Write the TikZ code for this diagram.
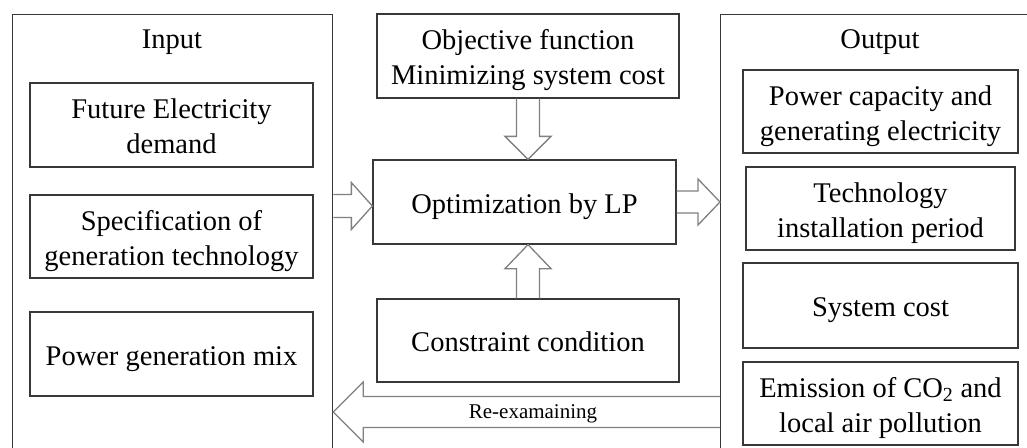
\documentclass[tikz,border=0pt]{standalone}
\usepackage{fontspec}
\setmainfont{Liberation Serif}
\usetikzlibrary{calc}
\tikzset{
  inbox/.style={draw=black!78, line width=1.3pt, align=center, inner sep=0pt,
    font=\fontsize{28.5}{35}\selectfont, text depth=0pt, text height=22.5pt},
  twoline/.style={text height=57.5pt},
  outbox/.style={draw=black!78, line width=1.3pt, inner sep=0pt, anchor=north west},
  titletext/.style={font=\fontsize{28.5}{35}\selectfont, inner sep=0pt, anchor=base},
  blockarrow/.style={draw=black!50, line width=1.3pt, line join=miter},
  lbl/.style={font=\fontsize{21}{25}\selectfont, inner sep=0pt, anchor=base}
}
\newcommand\blockarr[5]{%
  \coordinate (ba-s) at (#1);
  \coordinate (ba-t) at (#2);
  \coordinate (ba-h) at ($(ba-t)!#5!(ba-s)$);
  \draw[blockarrow] ($(ba-s)!#3!90:(ba-t)$) -- ($(ba-h)!#3!90:(ba-t)$)
    -- ($(ba-h)!#4!90:(ba-t)$) -- (ba-t) -- ($(ba-h)!#4!-90:(ba-t)$)
    -- ($(ba-h)!#3!-90:(ba-t)$) -- ($(ba-s)!#3!-90:(ba-t)$);
}
\begin{document}
\begin{tikzpicture}[x=1pt,y=-1pt]
\useasboundingbox (0,0) rectangle (1027,447);
\fill[white] (0,0) rectangle (1027,447);
\clip (0,0) rectangle (1027,447);

% outer boxes
\node[outbox, minimum width=320pt, minimum height=460pt] (input) at (12,14) {};
\node[outbox, minimum width=330pt, minimum height=460pt] (output) at (720,14) {};
\node[titletext] (intitle) at (172,48) {Input};
\node[titletext] (outtitle) at (880,48) {Output};

% input boxes
\node[inbox, twoline, minimum width=283pt, minimum height=84pt] (demand) at (171.5,125) {Future Electricity\\demand};
\node[inbox, twoline, minimum width=283pt, minimum height=83pt] (spec) at (171.5,236.5) {Specification of\\generation technology};
\node[inbox, minimum width=283pt, minimum height=84pt] (mix) at (171.5,354) {Power generation mix};

% middle boxes
\node[inbox, twoline, minimum width=302pt, minimum height=84pt] (obj) at (528,56) {Objective function\\Minimizing system cost};
\node[inbox, minimum width=303pt, minimum height=84pt] (opt) at (524.5,202) {Optimization by LP};
\node[inbox, minimum width=302pt, minimum height=83pt] (cons) at (528,340.5) {Constraint condition};

% output boxes
\node[inbox, twoline, minimum width=275pt, minimum height=83pt] (cap) at (880.5,111.5) {Power capacity and\\generating electricity};
\node[inbox, twoline, minimum width=269pt, minimum height=83pt] (tech) at (880.5,208.5) {Technology\\installation period};
\node[inbox, minimum width=275pt, minimum height=85pt] (cost) at (880.5,305.5) {System cost};
\node[inbox, twoline, minimum width=275pt, minimum height=83pt] (emis) at (880.5,403.5) {Emission of CO\textsubscript{2} and\\local air pollution};

% block arrows
\coordinate (t1) at ($(opt.west)+(0,4)$);
\blockarr{input.east |- t1}{t1}{11.5pt}{23.5pt}{21pt}
\blockarr{opt.east}{opt.east -| output.west}{11pt}{23pt}{22pt}
\blockarr{obj.south}{obj.south |- opt.north}{11.5pt}{23pt}{23pt}
\blockarr{cons.north}{cons.north |- opt.south}{11.5pt}{23pt}{24pt}
\coordinate (r5) at (0,412);
\blockarr{output.west |- r5}{input.east |- r5}{15.5pt}{30pt}{30pt}
\node[lbl] (re) at (533,418) {Re-examaining};
\end{tikzpicture}
\end{document}
